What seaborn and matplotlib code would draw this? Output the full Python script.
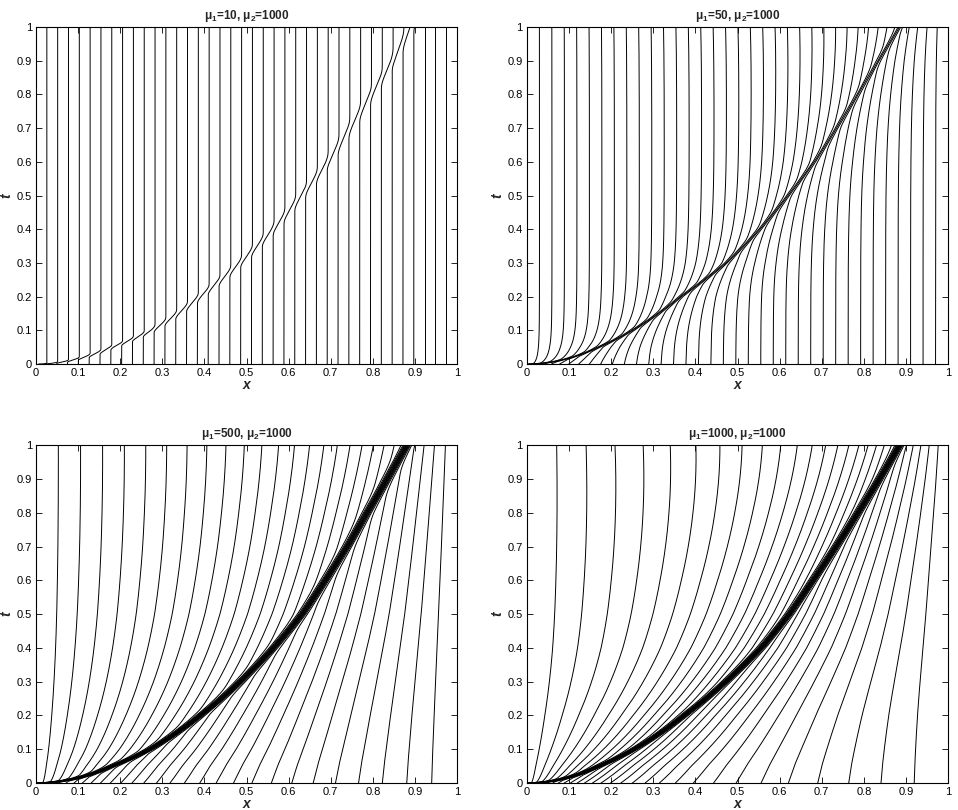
import numpy as np
import pandas as pd
import matplotlib
matplotlib.use("Agg")
import matplotlib.pyplot as plt
import seaborn as sns

# ---------------- data ----------------
titles = [r"$\mu_1$=10, $\mu_2$=1000", r"$\mu_1$=50, $\mu_2$=1000",
          r"$\mu_1$=500, $\mu_2$=1000", r"$\mu_1$=1000, $\mu_2$=1000"]

# location of the moving front (the dense band of mesh lines) at times front_t
front_t = [0.0, 0.05, 0.1, 0.2, 0.3, 0.4, 0.5, 0.6, 0.7, 0.8, 0.9, 1.0]
front_x_p1 = [0.0, 0.18, 0.275, 0.389, 0.484, 0.563, 0.630, 0.693, 0.745, 0.796, 0.847, 0.890]
front_x_p2 = [0.0, 0.17, 0.250, 0.365, 0.473, 0.553, 0.620, 0.683, 0.735, 0.786, 0.834, 0.885]
front_x_p3 = [0.0, 0.18, 0.270, 0.390, 0.485, 0.564, 0.632, 0.687, 0.739, 0.786, 0.834, 0.881]
front_x_p4 = [0.0, 0.17, 0.254, 0.373, 0.472, 0.556, 0.623, 0.679, 0.734, 0.786, 0.837, 0.885]
fronts = [front_x_p1, front_x_p2, front_x_p3, front_x_p4]

n_intervals = 40                       # mesh intervals (39 interior mesh lines)
# monitor-function weights estimated from line spacings in each panel
tail_amp = [0.0, 0.8, 1.69, 3.9]
tail_len = [0.03, 0.06, 0.25, 0.177]
front_mass = [0.028, 0.09, 0.75, 0.95]
front_width = [0.008, 0.006, 0.010, 0.009]

tick_vals = [0, 0.1, 0.2, 0.3, 0.4, 0.5, 0.6, 0.7, 0.8, 0.9, 1]
tick_labels = ["0", "0.1", "0.2", "0.3", "0.4", "0.5", "0.6", "0.7", "0.8", "0.9", "1"]

# ---------------- mesh trajectories by equidistribution ----------------
xg = np.linspace(0.0, 1.0, 6001)
tg = np.linspace(0.0, 1.0, 901) ** 2


def mesh_lines(front_x, A, L, B, w):
    st = np.interp(np.sqrt(tg), np.sqrt(front_t), front_x)
    k = np.arange(1, n_intervals) / n_intervals
    X = np.empty((len(tg), n_intervals - 1))
    for j, s in enumerate(st):
        g = (np.exp(-((xg - s) / w) ** 2) + np.exp(-((xg + s) / w) ** 2)) / (w * np.sqrt(np.pi))
        tail = np.exp(-np.abs(xg - s) / L) + np.exp(-np.abs(xg + s) / L)
        M = 1.0 + A * tail + B * g
        cum = np.concatenate([[0.0], np.cumsum(0.5 * (M[1:] + M[:-1]) * np.diff(xg))])
        X[j] = np.interp(k * cum[-1], cum, xg)
    rows = [pd.DataFrame({"x": X[:, i], "t": tg, "line": i}) for i in range(n_intervals - 1)]
    return pd.concat(rows, ignore_index=True)


# ---------------- figure ----------------
sns.set_style("ticks")
plt.rcParams["font.family"] = ["Liberation Sans", "DejaVu Sans"]
plt.rcParams["mathtext.default"] = "regular"
plt.rcParams["axes.linewidth"] = 0.8

fig = plt.figure(figsize=(9.58, 8.10), dpi=100)
boxes = [(0.0376, 0.5506, 0.4395, 0.416), (0.5501, 0.5506, 0.4395, 0.416),
         (0.0376, 0.0333, 0.4395, 0.417), (0.5501, 0.0333, 0.4395, 0.417)]

for p in range(4):
    ax = fig.add_axes(boxes[p])
    df = mesh_lines(fronts[p], tail_amp[p], tail_len[p], front_mass[p], front_width[p])
    sns.lineplot(data=df, x="x", y="t", units="line", estimator=None, sort=False,
                 color="black", linewidth=0.7, ax=ax, legend=False)
    ax.set_xlim(0, 1)
    ax.set_ylim(0, 1)
    ax.set_xticks(tick_vals)
    ax.set_xticklabels(tick_labels)
    ax.set_yticks(tick_vals)
    ax.set_yticklabels(tick_labels)
    ax.tick_params(direction="in", top=True, right=True, length=4, width=0.6,
                   labelsize=8, pad=3, colors="black")
    for sp in ax.spines.values():
        sp.set_visible(True)
        sp.set_color("black")
    ax.set_xlabel("x", fontstyle="italic", fontweight="bold", fontsize=10, labelpad=0)
    ax.set_ylabel("t", fontstyle="italic", fontweight="bold", fontsize=10, labelpad=2)
    ax.set_title(titles[p], fontweight="bold", fontsize=8.5, pad=6)

fig.savefig("out.png", dpi=100)
